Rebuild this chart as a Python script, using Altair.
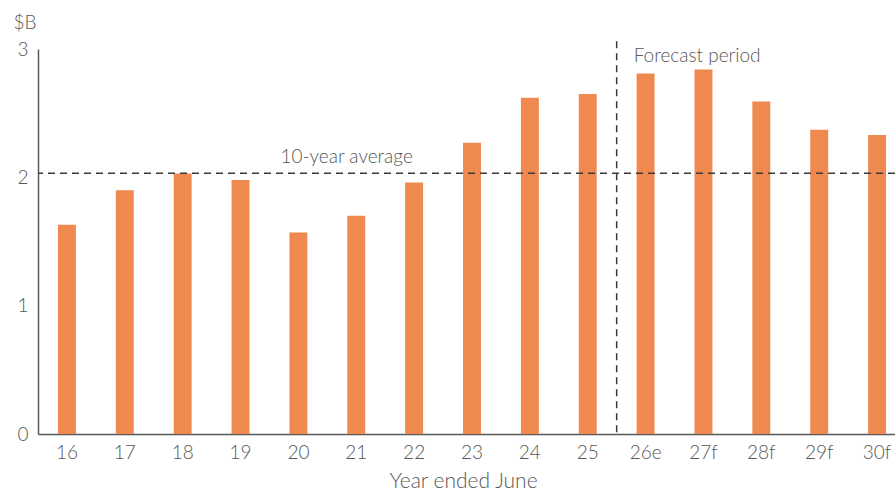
import altair as alt
import pandas as pd

# Annual values, $B, year ended June (e = estimate, f = forecast)
years = ["16", "17", "18", "19", "20", "21", "22", "23", "24", "25",
         "26e", "27f", "28f", "29f", "30f"]
values = [1.63, 1.90, 2.03, 1.98, 1.57, 1.70, 1.96, 2.27, 2.62, 2.65,
          2.81, 2.84, 2.59, 2.37, 2.33]
history_years = years[:10]

df = pd.DataFrame({"year": years, "value": values})
avg_value = sum(values[:10]) / len(history_years)

FONT = "Lato"
TEXT = "#575757"
BAR = "#F0894F"
DASH = "#3a3a3a"

x_scale = alt.Scale(domain=years, range=[0, 868], paddingInner=0, paddingOuter=0)
y_scale = alt.Scale(domain=[0, 3], nice=False, zero=True)

x_enc = alt.X(
    "year:N",
    scale=x_scale,
    sort=years,
    axis=alt.Axis(
        title="Year ended June",
        labelAngle=0,
        labelFontSize=19,
        labelColor=TEXT,
        labelPadding=9,
        ticks=False,
        domainColor="#5a5a5a",
        domainWidth=1.5,
        titleFontSize=21,
        titleFontWeight=300,
        titleColor=TEXT,
        titleX=425,
        titleY=53,
        titleBaseline="alphabetic",
        titleAlign="center",
    ),
)

y_enc = alt.Y(
    "value:Q",
    scale=y_scale,
    axis=alt.Axis(
        title="$B",
        values=[0, 1, 2, 3],
        format="d",
        labelFontSize=19,
        labelColor=TEXT,
        labelPadding=10,
        ticks=False,
        grid=False,
        domainColor="#5a5a5a",
        domainWidth=1.5,
        titleAngle=0,
        titleFontSize=19,
        titleFontWeight=300,
        titleColor=TEXT,
        titleAlign="left",
        titleBaseline="alphabetic",
        titleX=-25,
        titleY=-21,
    ),
)

bars = alt.Chart(df).mark_bar(
    color=BAR, width=alt.RelativeBandSize(0.31)
).encode(x=x_enc, y=y_enc)

avg_df = pd.DataFrame({"avg": [avg_value], "year": ["20"], "label": ["10-year average"]})

avg_rule = alt.Chart(avg_df).mark_rule(
    color=DASH, strokeWidth=1.5, strokeDash=[7, 5]
).encode(y=alt.Y("avg:Q", scale=y_scale))

avg_text = alt.Chart(avg_df).mark_text(
    align="left", baseline="alphabetic", dx=-18, dy=-10,
    fontSize=19, fontWeight=300, color=TEXT, font=FONT
).encode(
    x=alt.X("year:N", scale=x_scale, sort=years),
    y=alt.Y("avg:Q", scale=y_scale),
    text="label:N",
)

fc_df = pd.DataFrame({"year": [history_years[-1]], "top": [3.06], "bottom": [0.0],
                      "ytext": [3.0], "label": ["Forecast period"]})

fc_rule = alt.Chart(fc_df).mark_rule(
    color=DASH, strokeWidth=1.5, strokeDash=[7, 5]
).encode(
    x=alt.X("year:N", scale=x_scale, sort=years, bandPosition=1),
    y=alt.Y("top:Q", scale=y_scale),
    y2="bottom:Q",
)

fc_text = alt.Chart(fc_df).mark_text(
    align="left", baseline="alphabetic", dx=17, dy=13,
    fontSize=19, fontWeight=300, color=TEXT, font=FONT
).encode(
    x=alt.X("year:N", scale=x_scale, sort=years, bandPosition=1),
    y=alt.Y("ytext:Q", scale=y_scale),
    text="label:N",
)

chart = alt.layer(bars, avg_rule, avg_text, fc_rule, fc_text).properties(
    width=857,
    height=385,
    padding={"left": 38, "top": 49, "right": 0, "bottom": 57},
    autosize=alt.AutoSizeParams(type="none"),
).configure(
    font=FONT,
).configure_view(
    stroke=None,
).configure_axis(
    labelFont=FONT,
    titleFont=FONT,
    labelFontWeight=300,
)

chart.save("out.html", embed_options={"renderer": "svg", "actions": False})
